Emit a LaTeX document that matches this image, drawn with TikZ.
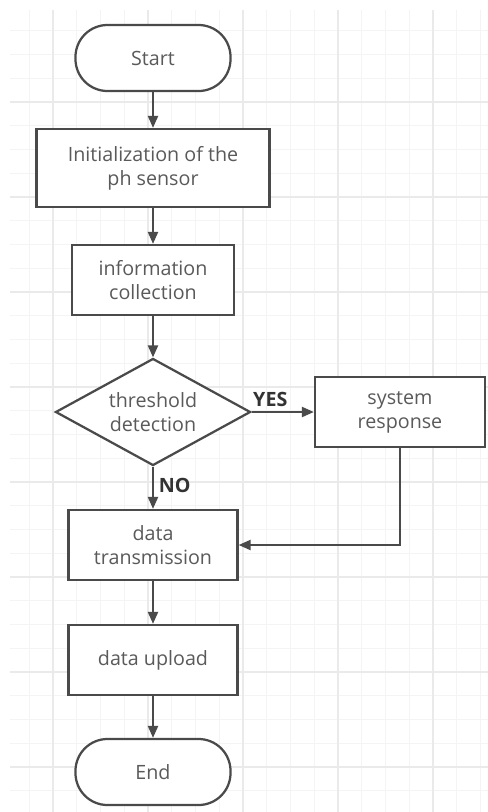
\documentclass[tikz,border=0pt]{standalone}
\usepackage{fontspec}
\setmainfont{Open Sans}
\usetikzlibrary{shapes.geometric,arrows.meta}
\definecolor{edgegray}{HTML}{4A4A4A}
\definecolor{textgray}{HTML}{5A5A5A}
\definecolor{gridminor}{HTML}{F4F4F4}
\definecolor{gridmajor}{HTML}{EAEAEA}
\begin{document}
\begin{tikzpicture}[x=0.025cm,y=-0.025cm,
    every node/.style={font=\fontsize{14}{17}\selectfont,text=textgray,align=center},
    terminal/.style={draw=edgegray,fill=white,line width=1.6pt,rectangle,rounded corners=0.8cm,minimum width=3.875cm,minimum height=1.65cm},
    process/.style={draw=edgegray,fill=white,line width=1.6pt,rectangle,minimum width=4.225cm,minimum height=1.75cm},
    decision/.style={draw=edgegray,fill=white,line width=1.6pt,diamond,aspect=1.82,inner sep=0pt,minimum width=4.875cm,minimum height=2.675cm},
    flow/.style={draw=edgegray,line width=1.6pt,-{Triangle[length=0.3cm,width=0.25cm]}},
    answer/.style={font=\fontsize{14}{17}\selectfont\bfseries,text=black!80}]
  \fill[white] (0,0) rectangle (488,812);
  \begin{scope}
    \clip (10,10) rectangle (488,812);
    \foreach \i in {0,...,22} {
      \draw[gridminor,line width=0.6pt] ({-18.25+\i*23.75},10) -- ({-18.25+\i*23.75},812);
    }
    \foreach \i in {0,...,35} {
      \draw[gridminor,line width=0.6pt] (10,{7+\i*23.75}) -- (488,{7+\i*23.75});
    }
    \foreach \i in {0,...,5} {
      \draw[gridmajor,line width=0.8pt] ({53+\i*95},10) -- ({53+\i*95},812);
    }
    \foreach \i in {0,...,9} {
      \draw[gridmajor,line width=0.8pt] (10,{7+\i*95}) -- (488,{7+\i*95});
    }
  \end{scope}
  \node[terminal] (start) at (153,58) {Start};
  \node[process,minimum width=5.825cm,minimum height=1.95cm] (init) at (153,168) {Initialization of the\\ph sensor};
  \node[process,minimum width=4.05cm] (collect) at (153,280) {information\\collection};
  \node[decision] (detect) at (153,412) {threshold\\detection};
  \node[process,minimum width=4.25cm] (response) at (400,412) {system\\response};
  \node[process] (transmit) at (153,545) {data\\transmission};
  \node[process] (upload) at (153,660) {data upload};
  \node[terminal] (end) at (153,772) {End};
  \draw[flow] (start) -- (init);
  \draw[flow] (init) -- (collect);
  \draw[flow] (collect) -- (detect);
  \draw[flow] (detect) -- node[answer,above,pos=0.3] {YES} (response);
  \draw[flow] (detect) -- node[answer,right,pos=0.45] {NO} (transmit);
  \draw[flow] (response) |- (transmit);
  \draw[flow] (transmit) -- (upload);
  \draw[flow] (upload) -- (end);
  \useasboundingbox (0,0) rectangle (488,812);
\end{tikzpicture}
\end{document}
